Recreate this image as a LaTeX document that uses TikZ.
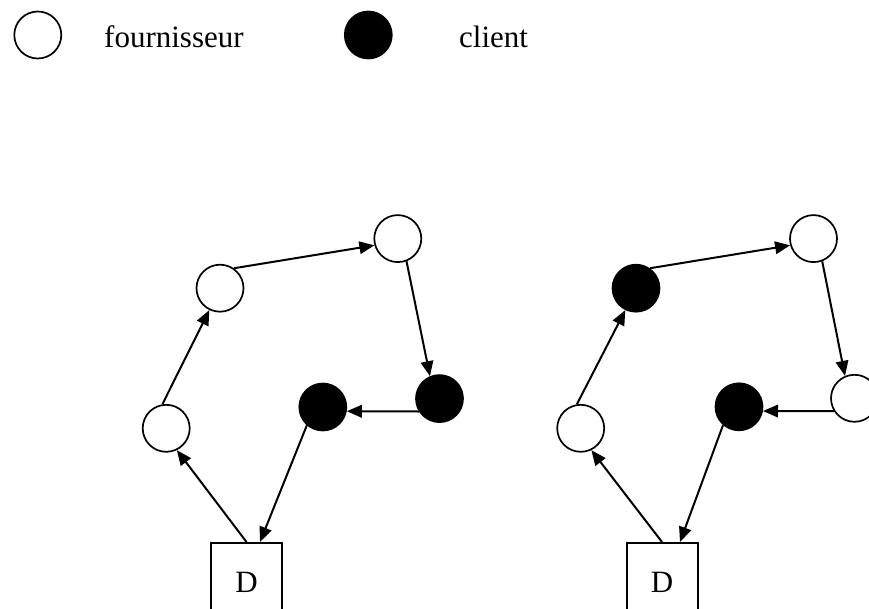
\documentclass[tikz,border=0pt]{standalone}
\usepackage{fontspec}
\setmainfont{Liberation Serif}
\usetikzlibrary{arrows.meta}
\begin{document}
\begin{tikzpicture}[x=1pt,y=-1pt,
  fourn/.style={circle, draw=black, fill=white, line width=1.7pt, minimum size=47pt, inner sep=0pt},
  clie/.style={circle, draw=black, fill=black, line width=1.7pt, minimum size=47pt, inner sep=0pt},
  depot/.style={rectangle, draw=black, fill=white, line width=2pt, minimum width=71pt, minimum height=78pt, inner sep=0pt, font=\fontsize{31}{37}\selectfont},
  link/.style={line width=2pt, -{Triangle[length=15pt,width=12.5pt]}},
  lbl/.style={anchor=base west, inner sep=0pt, font=\fontsize{31}{37}\selectfont}]
\useasboundingbox (0,0) rectangle (869,609);
\clip (0,0) rectangle (869,609);

% legend
\node[fourn] (legF) at (37.8,35) {};
\node[lbl] (legFt) at (104,48) {fournisseur};
\node[clie] (legC) at (368.3,35) {};
\node[lbl] (legCt) at (459,48) {client};

% left tour
\node[depot] (LD) at (246.5,582) {D};
\node[fourn] (Lbl) at (166.2,428.3) {};
\node[fourn] (Lml) at (220,288.2) {};
\node[fourn] (Ltr) at (397.8,238.6) {};
\node[clie]  (Lrb) at (439.5,398.6) {};
\node[clie]  (Lbm) at (322.8,407) {};

\draw[link] (LD.north) -- (Lbl.-64);
\draw[link] (Lbl.99) -- (Lml.244);
\draw[link] (Lml.55) -- (Ltr.196);
\draw[link] (Ltr.-69) -- (Lrb.113);
\draw[link] (Lrb.212) -- (Lbm.-10);
\draw[link] (Lbm.229) -- ([xshift=13.5pt]LD.north);

% right tour
\node[depot] (RD) at (662,582) {D};
\node[fourn] (Rbl) at (580.7,428.3) {};
\node[clie]  (Rml) at (636,288.2) {};
\node[fourn] (Rtr) at (813.5,238.6) {};
\node[fourn] (Rrb) at (854.5,398.3) {};
\node[clie]  (Rbm) at (739,406.8) {};

\draw[link] (RD.north) -- (Rbl.-64);
\draw[link] (Rbl.99) -- (Rml.244);
\draw[link] (Rml.55) -- (Rtr.196);
\draw[link] (Rtr.-69) -- (Rrb.113);
\draw[link] (Rrb.212) -- (Rbm.-10);
\draw[link] (Rbm.229) -- ([xshift=18pt]RD.north);
\end{tikzpicture}
\end{document}
